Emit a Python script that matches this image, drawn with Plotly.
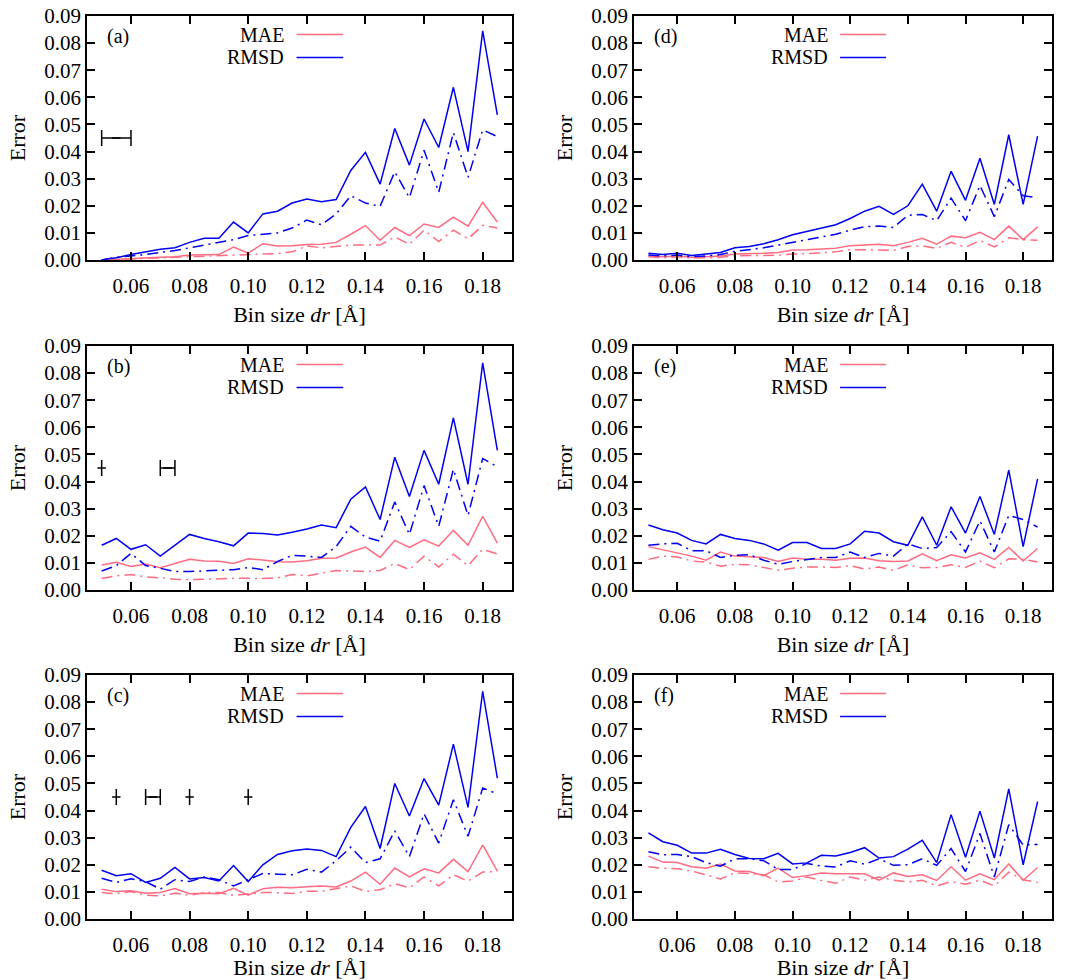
import plotly.graph_objects as go

# Bin sizes dr [Å]
bin_size = [0.050, 0.055, 0.060, 0.065, 0.070, 0.075, 0.080, 0.085, 0.090, 0.095,
            0.100, 0.105, 0.110, 0.115, 0.120, 0.125, 0.130, 0.135, 0.140, 0.145,
            0.150, 0.155, 0.160, 0.165, 0.170, 0.175, 0.180, 0.185]

# Panel (a)
rmsd_a = [0.0000, 0.0008, 0.0020, 0.0030, 0.0040, 0.0045, 0.0065, 0.0080, 0.0080, 0.0140,
          0.0100, 0.0170, 0.0180, 0.0210, 0.0225, 0.0215, 0.0223, 0.0330, 0.0397, 0.0280,
          0.0485, 0.0350, 0.0520, 0.0415, 0.0637, 0.0400, 0.0845, 0.0535]
rmsd_a_dd = [0.0000, 0.0010, 0.0015, 0.0020, 0.0028, 0.0035, 0.0045, 0.0055, 0.0063, 0.0075,
             0.0090, 0.0095, 0.0100, 0.0118, 0.0147, 0.0130, 0.0170, 0.0237, 0.0210, 0.0198,
             0.0325, 0.0230, 0.0405, 0.0250, 0.0470, 0.0305, 0.0480, 0.0455]
mae_a = [0.0000, 0.0003, 0.0006, 0.0008, 0.0010, 0.0012, 0.0018, 0.0019, 0.0020, 0.0048,
         0.0025, 0.0060, 0.0052, 0.0053, 0.0057, 0.0058, 0.0065, 0.0095, 0.0127, 0.0073,
         0.0120, 0.0090, 0.0133, 0.0120, 0.0158, 0.0125, 0.0213, 0.0140]
mae_a_dd = [0.0000, 0.0002, 0.0004, 0.0006, 0.0008, 0.0010, 0.0013, 0.0015, 0.0017, 0.0020,
            0.0022, 0.0023, 0.0024, 0.0030, 0.0052, 0.0045, 0.0050, 0.0055, 0.0055, 0.0055,
            0.0085, 0.0058, 0.0110, 0.0068, 0.0110, 0.0078, 0.0128, 0.0118]

# Panel (b)
rmsd_b = [0.0165, 0.0190, 0.0150, 0.0167, 0.0125, 0.0165, 0.0205, 0.0190, 0.0178, 0.0163,
          0.0210, 0.0208, 0.0203, 0.0213, 0.0225, 0.0240, 0.0230, 0.0335, 0.0380, 0.0260,
          0.0490, 0.0345, 0.0515, 0.0390, 0.0635, 0.0390, 0.0838, 0.0515]
rmsd_b_dd = [0.0070, 0.0090, 0.0135, 0.0090, 0.0080, 0.0068, 0.0068, 0.0070, 0.0072, 0.0075,
             0.0083, 0.0075, 0.0105, 0.0128, 0.0125, 0.0120, 0.0160, 0.0235, 0.0195, 0.0180,
             0.0325, 0.0205, 0.0385, 0.0235, 0.0445, 0.0275, 0.0485, 0.0455]
mae_b = [0.0092, 0.0102, 0.0087, 0.0096, 0.0082, 0.0097, 0.0113, 0.0107, 0.0106, 0.0098,
         0.0115, 0.0111, 0.0104, 0.0103, 0.0108, 0.0117, 0.0118, 0.0140, 0.0158, 0.0120,
         0.0183, 0.0157, 0.0185, 0.0162, 0.0220, 0.0165, 0.0272, 0.0173]
mae_b_dd = [0.0042, 0.0052, 0.0057, 0.0048, 0.0045, 0.0040, 0.0038, 0.0040, 0.0042, 0.0043,
            0.0043, 0.0042, 0.0045, 0.0057, 0.0052, 0.0062, 0.0072, 0.0070, 0.0068, 0.0072,
            0.0098, 0.0075, 0.0125, 0.0085, 0.0132, 0.0090, 0.0150, 0.0133]

# Panel (c)
rmsd_c = [0.0180, 0.0160, 0.0167, 0.0135, 0.0150, 0.0190, 0.0148, 0.0153, 0.0140, 0.0197,
          0.0138, 0.0200, 0.0238, 0.0252, 0.0258, 0.0253, 0.0230, 0.0338, 0.0415, 0.0260,
          0.0500, 0.0380, 0.0518, 0.0420, 0.0645, 0.0412, 0.0840, 0.0520]
rmsd_c_dd = [0.0150, 0.0135, 0.0148, 0.0138, 0.0110, 0.0145, 0.0138, 0.0155, 0.0145, 0.0122,
             0.0145, 0.0168, 0.0165, 0.0163, 0.0183, 0.0173, 0.0215, 0.0265, 0.0208, 0.0222,
             0.0325, 0.0230, 0.0388, 0.0280, 0.0440, 0.0305, 0.0483, 0.0462]
mae_c = [0.0110, 0.0101, 0.0104, 0.0095, 0.0098, 0.0112, 0.0093, 0.0095, 0.0093, 0.0113,
         0.0088, 0.0112, 0.0117, 0.0115, 0.0119, 0.0122, 0.0118, 0.0140, 0.0173, 0.0128,
         0.0188, 0.0155, 0.0185, 0.0170, 0.0220, 0.0175, 0.0273, 0.0177]
mae_c_dd = [0.0098, 0.0093, 0.0101, 0.0088, 0.0085, 0.0095, 0.0087, 0.0097, 0.0098, 0.0087,
            0.0092, 0.0098, 0.0097, 0.0094, 0.0102, 0.0102, 0.0112, 0.0122, 0.0102, 0.0108,
            0.0130, 0.0115, 0.0155, 0.0122, 0.0163, 0.0140, 0.0173, 0.0175]

# Panel (d)
rmsd_d = [0.0025, 0.0020, 0.0025, 0.0017, 0.0022, 0.0028, 0.0045, 0.0050, 0.0060, 0.0075,
          0.0093, 0.0105, 0.0117, 0.0130, 0.0153, 0.0180, 0.0198, 0.0168, 0.0200, 0.0280,
          0.0180, 0.0327, 0.0220, 0.0375, 0.0205, 0.0462, 0.0205, 0.0457]
rmsd_d_dd = [0.0018, 0.0015, 0.0018, 0.0012, 0.0015, 0.0020, 0.0032, 0.0038, 0.0045, 0.0055,
             0.0065, 0.0075, 0.0085, 0.0095, 0.0110, 0.0123, 0.0125, 0.0120, 0.0165, 0.0168,
             0.0145, 0.0228, 0.0145, 0.0275, 0.0160, 0.0297, 0.0237, 0.0230]
mae_d = [0.0015, 0.0012, 0.0015, 0.0010, 0.0012, 0.0015, 0.0022, 0.0023, 0.0025, 0.0028,
         0.0037, 0.0038, 0.0041, 0.0043, 0.0053, 0.0055, 0.0058, 0.0053, 0.0065, 0.0080,
         0.0058, 0.0088, 0.0082, 0.0102, 0.0075, 0.0125, 0.0075, 0.0122]
mae_d_dd = [0.0012, 0.0008, 0.0012, 0.0007, 0.0008, 0.0010, 0.0015, 0.0015, 0.0017, 0.0018,
            0.0022, 0.0023, 0.0026, 0.0030, 0.0038, 0.0038, 0.0037, 0.0035, 0.0050, 0.0052,
            0.0043, 0.0065, 0.0047, 0.0072, 0.0048, 0.0082, 0.0075, 0.0073]

# Panel (e)
rmsd_e = [0.0240, 0.0222, 0.0210, 0.0183, 0.0170, 0.0205, 0.0190, 0.0183, 0.0170, 0.0147,
          0.0175, 0.0175, 0.0153, 0.0153, 0.0170, 0.0217, 0.0210, 0.0178, 0.0165, 0.0270,
          0.0165, 0.0307, 0.0210, 0.0345, 0.0205, 0.0442, 0.0160, 0.0410]
rmsd_e_dd = [0.0165, 0.0170, 0.0172, 0.0145, 0.0145, 0.0120, 0.0128, 0.0130, 0.0110, 0.0095,
             0.0105, 0.0113, 0.0120, 0.0120, 0.0140, 0.0120, 0.0135, 0.0125, 0.0170, 0.0153,
             0.0157, 0.0215, 0.0140, 0.0255, 0.0140, 0.0275, 0.0260, 0.0232]
mae_e = [0.0160, 0.0148, 0.0137, 0.0125, 0.0110, 0.0140, 0.0125, 0.0122, 0.0120, 0.0105,
         0.0118, 0.0113, 0.0113, 0.0110, 0.0117, 0.0118, 0.0108, 0.0105, 0.0107, 0.0133,
         0.0108, 0.0130, 0.0118, 0.0137, 0.0113, 0.0157, 0.0107, 0.0153]
mae_e_dd = [0.0113, 0.0125, 0.0122, 0.0107, 0.0103, 0.0088, 0.0095, 0.0093, 0.0083, 0.0073,
            0.0080, 0.0085, 0.0085, 0.0083, 0.0090, 0.0077, 0.0085, 0.0072, 0.0093, 0.0082,
            0.0083, 0.0093, 0.0083, 0.0107, 0.0082, 0.0115, 0.0113, 0.0103]

# Panel (f)
rmsd_f = [0.0318, 0.0285, 0.0272, 0.0243, 0.0243, 0.0257, 0.0238, 0.0223, 0.0222, 0.0242,
          0.0203, 0.0207, 0.0235, 0.0232, 0.0245, 0.0263, 0.0225, 0.0230, 0.0258, 0.0290,
          0.0208, 0.0385, 0.0228, 0.0398, 0.0225, 0.0480, 0.0200, 0.0433]
rmsd_f_dd = [0.0248, 0.0237, 0.0238, 0.0230, 0.0208, 0.0195, 0.0222, 0.0222, 0.0215, 0.0183,
             0.0183, 0.0205, 0.0195, 0.0192, 0.0215, 0.0202, 0.0222, 0.0198, 0.0200, 0.0222,
             0.0198, 0.0260, 0.0175, 0.0315, 0.0155, 0.0348, 0.0273, 0.0275]
mae_f = [0.0232, 0.0210, 0.0208, 0.0193, 0.0187, 0.0203, 0.0177, 0.0175, 0.0160, 0.0188,
         0.0153, 0.0160, 0.0170, 0.0167, 0.0167, 0.0167, 0.0143, 0.0170, 0.0157, 0.0163,
         0.0142, 0.0193, 0.0143, 0.0167, 0.0145, 0.0203, 0.0143, 0.0190]
mae_f_dd = [0.0193, 0.0187, 0.0185, 0.0177, 0.0163, 0.0148, 0.0170, 0.0168, 0.0163, 0.0137,
            0.0140, 0.0155, 0.0142, 0.0132, 0.0155, 0.0143, 0.0155, 0.0143, 0.0137, 0.0143,
            0.0122, 0.0138, 0.0128, 0.0143, 0.0122, 0.0173, 0.0145, 0.0135]

# Horizontal error-bar markers drawn at Error = 0.045
bar_level = 0.045
bars_a_x = [0.055]
bars_a_err = [0.005]
bars_b_x = [0.050, 0.0725]
bars_b_err = [0.0, 0.0025]
bars_c_x = [0.055, 0.0675, 0.080, 0.100]
bars_c_err = [0.0, 0.0025, 0.0, 0.0]

x_ticks = [0.06, 0.08, 0.10, 0.12, 0.14, 0.16, 0.18]
x_tick_text = ["0.06", "0.08", "0.10", "0.12", "0.14", "0.16", "0.18"]
y_ticks = [0.00, 0.01, 0.02, 0.03, 0.04, 0.05, 0.06, 0.07, 0.08, 0.09]
y_tick_text = ["0.00", "0.01", "0.02", "0.03", "0.04", "0.05", "0.06", "0.07", "0.08", "0.09"]

panel_labels = ["(a)", "(b)", "(c)", "(d)", "(e)", "(f)"]
series = [
    (mae_a, mae_a_dd, rmsd_a, rmsd_a_dd),
    (mae_b, mae_b_dd, rmsd_b, rmsd_b_dd),
    (mae_c, mae_c_dd, rmsd_c, rmsd_c_dd),
    (mae_d, mae_d_dd, rmsd_d, rmsd_d_dd),
    (mae_e, mae_e_dd, rmsd_e, rmsd_e_dd),
    (mae_f, mae_f_dd, rmsd_f, rmsd_f_dd),
]
bars = [(bars_a_x, bars_a_err), (bars_b_x, bars_b_err), (bars_c_x, bars_c_err),
        None, None, None]

W, H = 1067, 980
PINK = "#ff6b80"
BLUE = "#0000f0"
FONT = "Liberation Serif, Times New Roman, serif"
FS_TICK = 21
FS_TITLE = 22
FS_KEY = 20
DASHDOT = "11px,5px,2px,5px"

# plot-area boxes in pixels: (left, right, top, bottom)
boxes = [
    (87, 512, 16, 260), (87, 512, 346, 590), (87, 512, 675, 919),
    (634, 1052, 16, 260), (634, 1052, 346, 590), (634, 1052, 675, 919),
]

fig = go.Figure()
layout = dict(
    template="none",
    width=W, height=H,
    margin=dict(l=0, r=0, t=0, b=0, pad=0),
    paper_bgcolor="white", plot_bgcolor="white",
    showlegend=False,
    font=dict(family=FONT, size=FS_TICK, color="black"),
)
annotations = []
shapes = []

for i in range(6):
    n = "" if i == 0 else str(i + 1)
    xa, ya = "x" + n, "y" + n
    left, right, top, bottom = boxes[i]
    layout["xaxis" + n] = dict(
        domain=[left / W, right / W], range=[0.045, 0.19], anchor=ya,
        automargin=False,
        tickvals=x_ticks, ticktext=x_tick_text,
        ticks="inside", ticklen=8, tickwidth=1.5, tickcolor="black",
        showline=True, linewidth=1.5, linecolor="black", mirror="ticks",
        showgrid=False, zeroline=False,
        tickfont=dict(family=FONT, size=FS_TICK),
        ticklabelstandoff=6,
        title=dict(text="Bin size <i>dr</i> [Å]", font=dict(family=FONT, size=FS_TITLE),
                   standoff=10),
    )
    layout["yaxis" + n] = dict(
        domain=[1 - bottom / H, 1 - top / H], range=[0, 0.09], anchor=xa,
        automargin=False,
        tickvals=y_ticks, ticktext=y_tick_text,
        ticks="inside", ticklen=8, tickwidth=1.5, tickcolor="black",
        showline=True, linewidth=1.5, linecolor="black", mirror="ticks",
        showgrid=False, zeroline=False,
        tickfont=dict(family=FONT, size=FS_TICK),
        title=dict(text="Error", font=dict(family=FONT, size=FS_TITLE), standoff=13),
    )

    mae, mae_dd, rmsd, rmsd_dd = series[i]
    for vals, color, dash in [(mae, PINK, "solid"), (rmsd, BLUE, "solid"),
                              (mae_dd, PINK, DASHDOT), (rmsd_dd, BLUE, DASHDOT)]:
        fig.add_trace(go.Scatter(
            x=bin_size, y=vals, mode="lines", xaxis=xa, yaxis=ya,
            line=dict(color=color, width=1.5, dash=dash),
            cliponaxis=True, hoverinfo="skip",
        ))

    if bars[i] is not None:
        bx, berr = bars[i]
        fig.add_trace(go.Scatter(
            x=bx, y=[bar_level] * len(bx), mode="markers", xaxis=xa, yaxis=ya,
            marker=dict(symbol="line-ew", size=6, color="black",
                        line=dict(color="black", width=1.5)),
            error_x=dict(type="data", array=berr, visible=True,
                         color="black", thickness=1.5, width=8),
            hoverinfo="skip",
        ))

    # panel tag and key
    xd, yd = xa + " domain", ya + " domain"
    annotations.append(dict(text=panel_labels[i], xref=xd, yref=yd, x=0.042, y=0.918,
                            xanchor="left", yanchor="middle", showarrow=False,
                            font=dict(family=FONT, size=FS_KEY)))
    for label, color, yk in [("MAE", PINK, 0.924), ("RMSD", BLUE, 0.830)]:
        annotations.append(dict(text=label, xref=xd, yref=yd, x=0.468, y=yk,
                                xanchor="right", yanchor="middle", showarrow=False,
                                font=dict(family=FONT, size=FS_KEY)))
        shapes.append(dict(type="line", xref=xd, yref=yd, x0=0.493, x1=0.603,
                           y0=yk, y1=yk, line=dict(color=color, width=1.5)))

layout["annotations"] = annotations
layout["shapes"] = shapes
fig.update_layout(**layout)

# keep the page free of scrollbars so the figure sits at its native size
fig.write_html(
    "out.html",
    post_script=("document.documentElement.style.overflow='hidden';"
                 "document.body.style.margin='0';"
                 "document.body.style.overflow='hidden';"),
)
